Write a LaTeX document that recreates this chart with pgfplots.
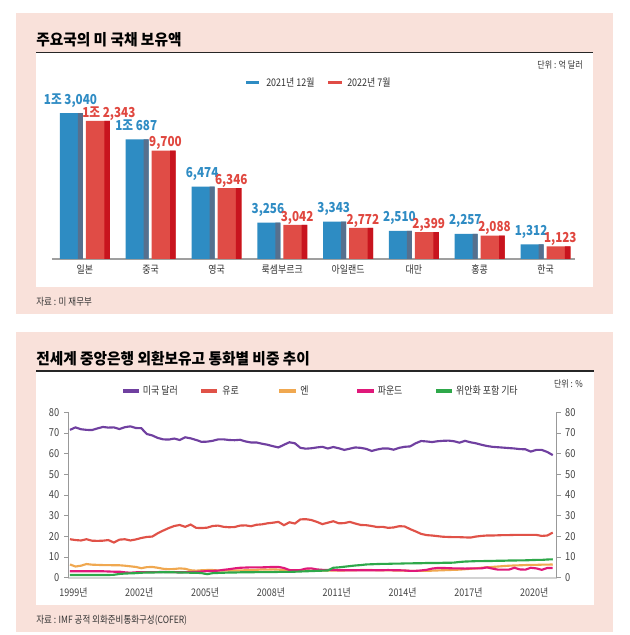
\documentclass[border=0pt]{standalone}
\usepackage{fontspec}
\setmainfont{Noto Sans CJK KR}
\newfontfamily\cond{Noto Sans CJK KR}[FakeStretch=0.85]
\newfontfamily\titlef{Noto Sans CJK KR}[FakeStretch=0.95]
\usepackage{pgfplots}
\usepackage{pgfplotstable}
\pgfplotsset{compat=1.18}

\definecolor{pinkbg}{HTML}{F9E1DA}
\definecolor{cblue}{HTML}{2E8CC3}
\definecolor{cbluedk}{HTML}{56708E}
\definecolor{cred}{HTML}{E04C46}
\definecolor{creddk}{HTML}{C8141E}
\definecolor{tblue}{HTML}{2F8CC4}
\definecolor{tred}{HTML}{E0473F}
\definecolor{cusd}{HTML}{7040A0}
\definecolor{ceur}{HTML}{E05248}
\definecolor{cjpy}{HTML}{F0A850}
\definecolor{cgbp}{HTML}{E0187A}
\definecolor{coth}{HTML}{2EA84A}
\definecolor{txt}{HTML}{333333}
\definecolor{tickgray}{HTML}{444444}

% 미 국채 보유액 (억 달러)
\pgfplotstableread[col sep=semicolon]{
x;a;b;la;lb
0;13040;12343;1조 3,040;1조 2,343
1;10687;9700;1조 687;9,700
2;6474;6346;6,474;6,346
3;3256;3042;3,256;3,042
4;3343;2772;3,343;2,772
5;2510;2399;2,510;2,399
6;2257;2088;2,257;2,088
7;1312;1123;1,312;1,123
}\bars

% 통화별 비중 (%), 분기
\pgfplotstableread{
t usd eur jpy gbp oth
1999.00 71.5 18.6 6.4 3.1 1.3
1999.25 72.7 18.2 5.4 3.1 1.3
1999.50 71.8 18.0 5.8 3.1 1.3
1999.75 71.5 18.6 6.6 3.1 1.3
2000.00 71.4 17.9 6.3 3.1 1.3
2000.25 72.2 17.8 6.2 3.1 1.3
2000.50 72.9 17.9 6.1 3.1 1.3
2000.75 72.6 18.2 6.1 3.0 1.3
2001.00 72.7 17.0 6.0 2.9 1.4
2001.25 71.9 18.4 6.0 2.9 1.8
2001.50 72.8 18.6 5.8 2.6 2.0
2001.75 73.2 18.0 5.5 2.4 2.1
2002.00 72.4 18.5 5.2 2.6 2.2
2002.25 72.3 19.2 4.6 2.7 2.4
2002.50 69.5 19.7 5.1 2.7 2.5
2002.75 68.8 19.9 5.2 2.7 2.5
2003.00 67.6 21.5 4.8 2.7 2.6
2003.25 66.9 22.8 4.3 2.8 2.6
2003.50 66.8 24.0 4.1 2.7 2.6
2003.75 67.3 25.0 4.2 2.7 2.6
2004.00 66.6 25.5 4.5 2.6 2.5
2004.25 67.9 24.6 4.3 2.7 2.5
2004.50 67.4 25.7 3.6 2.7 2.4
2004.75 66.6 24.1 3.4 2.8 2.4
2005.00 65.7 24.0 3.6 3.0 2.2
2005.25 65.8 24.2 3.7 3.2 1.7
2005.50 66.2 25.0 3.7 3.3 2.2
2005.75 66.9 25.2 3.5 3.4 2.3
2006.00 66.9 24.6 3.4 3.8 2.4
2006.25 66.6 24.4 3.5 4.1 2.5
2006.50 66.5 24.5 3.5 4.5 2.5
2006.75 66.7 25.2 3.5 4.8 2.6
2007.00 65.9 25.3 3.6 4.9 2.6
2007.25 65.4 24.9 3.7 5.0 2.6
2007.50 65.4 25.6 3.8 5.0 2.7
2007.75 64.8 25.8 4.0 5.0 2.7
2008.00 64.3 26.3 3.9 5.1 2.7
2008.25 63.6 26.6 4.0 5.2 2.7
2008.50 63.0 27.0 3.9 5.2 2.8
2008.75 64.3 25.4 3.7 4.7 2.8
2009.00 65.5 26.8 3.4 3.7 2.8
2009.25 65.0 26.2 3.2 3.6 2.9
2009.50 62.8 28.2 3.4 3.7 3.0
2009.75 62.4 28.3 3.5 4.4 3.1
2010.00 62.6 27.9 3.4 4.5 3.2
2010.25 63.0 27.0 3.6 4.0 3.3
2010.50 63.3 25.9 3.5 3.8 3.4
2010.75 62.5 26.6 3.4 3.8 3.5
2011.00 63.2 27.3 3.5 3.7 4.8
2011.25 62.6 26.3 3.5 3.6 5.0
2011.50 61.8 26.4 3.5 3.6 5.3
2011.75 62.4 27.0 3.6 3.6 5.6
2012.00 63.0 26.2 3.6 3.6 5.9
2012.25 62.8 25.5 3.7 3.6 6.1
2012.50 62.3 25.4 3.7 3.6 6.4
2012.75 61.3 25.0 3.7 3.6 6.5
2013.00 62.0 24.5 3.6 3.6 6.6
2013.25 62.5 24.6 3.6 3.6 6.7
2013.50 62.5 24.1 3.6 3.7 6.7
2013.75 61.9 24.3 3.5 3.6 6.8
2014.00 62.8 24.9 3.5 3.6 6.8
2014.25 63.3 24.8 3.4 3.5 6.9
2014.50 63.5 23.5 3.3 3.3 6.9
2014.75 65.0 22.4 3.3 3.3 7.0
2015.00 66.1 21.2 3.3 3.5 7.0
2015.25 65.9 20.6 3.3 3.8 7.1
2015.50 65.6 20.4 3.4 4.4 7.1
2015.75 66.0 20.1 3.5 4.7 7.1
2016.00 66.2 19.8 3.6 4.7 7.2
2016.25 66.3 19.7 3.7 4.6 7.2
2016.50 66.0 19.6 3.8 4.5 7.3
2016.75 65.3 19.6 3.9 4.5 7.6
2017.00 66.2 19.5 4.1 4.4 7.8
2017.25 65.5 19.4 4.3 4.5 7.9
2017.50 65.0 19.9 4.5 4.5 8.0
2017.75 64.3 20.2 4.8 4.5 8.0
2018.00 63.7 20.4 5.0 5.0 8.1
2018.25 63.3 20.4 5.2 4.4 8.1
2018.50 63.1 20.5 5.4 3.9 8.2
2018.75 62.9 20.6 5.6 3.9 8.2
2019.00 62.7 20.6 5.8 3.9 8.3
2019.25 62.5 20.7 5.9 4.8 8.3
2019.50 62.2 20.7 6.0 4.0 8.4
2019.75 62.1 20.7 6.1 3.9 8.4
2020.00 61.0 20.7 6.2 4.8 8.5
2020.25 61.8 20.7 6.2 4.5 8.6
2020.50 61.8 20.2 6.3 3.8 8.6
2020.75 60.8 20.4 6.3 4.7 8.8
2021.00 59.3 21.8 6.4 4.7 8.9
}\cofer

\pgfplotsset{
  barlab/.style={nodes near coords, point meta=explicit symbolic,
    every node near coord/.append style={font=\cond\bfseries\fontsize{10.3pt}{12pt}\selectfont,
      anchor=base, inner sep=0pt}},
  cofer axis/.style={at={(51pt,42.98pt)}, anchor=south west,
    scale only axis, width=366.4pt, height=124.05pt,
    xmin=1998.909, xmax=2021.173, ymin=0, ymax=80,
    ytick={0,10,...,80}, tick align=outside, major tick length=3pt,
    ytick style={draw=gray!80, line width=0.6pt},
    y axis line style={draw=gray!80, line width=0.6pt},
    /pgf/number format/assume math mode=true,
    yticklabel style={font=\cond\fontsize{8.2pt}{9pt}\selectfont, text=tickgray},
    clip=false},
}

\begin{document}
\begin{tikzpicture}[x=0.75pt,y=0.75pt]
% backgrounds
\fill[white] (0,0) rectangle (630,635);
\fill[pinkbg] (16,321) rectangle (613,622.3);
\fill[white] (36,348) rectangle (593,582);
\fill[pinkbg] (16,3.3) rectangle (613,303);
\fill[white] (36,30) rectangle (594,263);

% ---------- top panel ----------
\node[anchor=base west, inner sep=0pt, font=\titlef\bfseries\fontsize{11.6pt}{13pt}\selectfont] at (36,589.3) {주요국의 미 국채 보유액};
\draw[line width=1.05pt, black!85] (36,582.7) -- (593,582.7);
\node[anchor=base east, inner sep=0pt, text=txt, font=\cond\fontsize{7.1pt}{8pt}\selectfont] at (583,566.5) {단위 : 억 달러};
\fill[cblue] (246,550.6) rectangle (259,554);
\node[anchor=base west, inner sep=0pt, text=txt, font=\cond\fontsize{7.9pt}{9pt}\selectfont] at (266,548.4) {2021년 12월};
\fill[cred] (328,550.6) rectangle (342,554);
\node[anchor=base west, inner sep=0pt, text=txt, font=\cond\fontsize{7.9pt}{9pt}\selectfont] at (347,548.4) {2022년 7월};
\node[anchor=base west, inner sep=0pt, text=txt, font=\cond\fontsize{7.5pt}{9pt}\selectfont] at (36,329.6) {자료 : 미 재무부};

\begin{axis}[at={(39pt,282pt)}, anchor=south west,
  scale only axis, width=392.25pt, height=125.8pt,
  xmin=-0.5, xmax=7.448, ymin=0, ymax=15000,
  axis y line=none, axis x line*=bottom,
  x axis line style={draw=gray!75, line width=0.9pt},
  xtick={0,...,7},
  xticklabels={일본,중국,영국,룩셈부르크,아일랜드,대만,홍콩,한국},
  xtick style={draw=none}, major tick length=0pt,
  xticklabel style={font=\cond\fontsize{7.9pt}{9pt}\selectfont, text=txt,
    anchor=base, yshift=-10.7pt},
  clip=false]
\addplot[ybar, bar width=0.35, bar shift=-0.205, fill=cblue, draw=none, barlab,
  every node near coord/.append style={text=tblue, yshift=6.75pt, xshift=-10.8pt}]
  table[x=x, y=a, meta=la] {\bars};
\addplot[ybar, bar width=0.076, bar shift=-0.068, fill=cbluedk, draw=none]
  table[x=x, y=a] {\bars};
\addplot[ybar, bar width=0.365, bar shift=0.198, fill=cred, draw=none]
  table[x=x, y=b] {\bars};
\addplot[ybar, bar width=0.084, bar shift=0.337, fill=creddk, draw=none]
  table[x=x, y=b] {\bars};
% red value labels (Japan label sits a little further right)
\addplot[ybar, bar width=0.365, bar shift=0.198, draw=none, fill=none, barlab,
  skip coords between index={0}{1},
  every node near coord/.append style={text=tred, yshift=2.85pt, xshift=11.1pt}]
  table[x=x, y=b, meta=lb] {\bars};
\addplot[ybar, bar width=0.365, bar shift=0.198, draw=none, fill=none, barlab,
  skip coords between index={1}{8},
  every node near coord/.append style={text=tred, yshift=2.85pt, xshift=18pt}]
  table[x=x, y=b, meta=lb] {\bars};
\end{axis}

% ---------- bottom panel ----------
\node[anchor=base west, inner sep=0pt, font=\titlef\bfseries\fontsize{11.6pt}{13pt}\selectfont] at (36,270.3) {전세계 중앙은행 외환보유고 통화별 비중 추이};
\draw[line width=1.05pt, black!85] (36,264) -- (593.6,264);
\node[anchor=base east, inner sep=0pt, text=txt, font=\cond\fontsize{7.1pt}{8pt}\selectfont] at (583,247.5) {단위 : \%};
\fill[cusd] (122.5,242.2) rectangle (138.6,245.8);
\node[anchor=base west, inner sep=0pt, text=txt, font=\cond\fontsize{7.9pt}{9pt}\selectfont] at (142.6,240.1) {미국 달러};
\fill[ceur] (200.8,242.2) rectangle (216.9,245.8);
\node[anchor=base west, inner sep=0pt, text=txt, font=\cond\fontsize{7.9pt}{9pt}\selectfont] at (222,240.1) {유로};
\fill[cjpy] (279,242.2) rectangle (296,245.8);
\node[anchor=base west, inner sep=0pt, text=txt, font=\cond\fontsize{7.9pt}{9pt}\selectfont] at (300,240.1) {엔};
\fill[cgbp] (357.4,242.2) rectangle (373.5,245.8);
\node[anchor=base west, inner sep=0pt, text=txt, font=\cond\fontsize{7.9pt}{9pt}\selectfont] at (377.5,240.1) {파운드};
\fill[coth] (435.7,242.2) rectangle (451.8,245.8);
\node[anchor=base west, inner sep=0pt, text=txt, font=\cond\fontsize{7.9pt}{9pt}\selectfont] at (455.8,240.1) {위안화 포함 기타};
\node[anchor=base west, inner sep=0pt, text=txt, font=\cond\fontsize{7.5pt}{9pt}\selectfont] at (36,11.3) {자료 : IMF 공적 외화준비통화구성(COFER)};

\begin{axis}[cofer axis,
  axis x line*=bottom, axis y line*=left,
  x axis line style={draw=gray!35, line width=1.6pt},
  xtick={1999,2002,2005,2008,2011,2014,2017,2020},
  xticklabels={1999년,2002년,2005년,2008년,2011년,2014년,2017년,2020년},
  xtick style={draw=none},
  xticklabel style={font=\cond\fontsize{7.9pt}{9pt}\selectfont, text=tickgray,
    anchor=base, yshift=-11.4pt, xshift=2.6pt},
  every axis plot/.append style={line width=1.6pt, no markers}]
\addplot[cusd] table[x=t, y=usd] {\cofer};
\addplot[ceur] table[x=t, y=eur] {\cofer};
\addplot[cjpy] table[x=t, y=jpy] {\cofer};
\addplot[cgbp] table[x=t, y=gbp] {\cofer};
\addplot[coth] table[x=t, y=oth] {\cofer};
\end{axis}
\begin{axis}[cofer axis,
  axis x line=none, axis y line*=right]
\addplot[draw=none] coordinates {(2000,0)};
\end{axis}
\end{tikzpicture}
\end{document}
